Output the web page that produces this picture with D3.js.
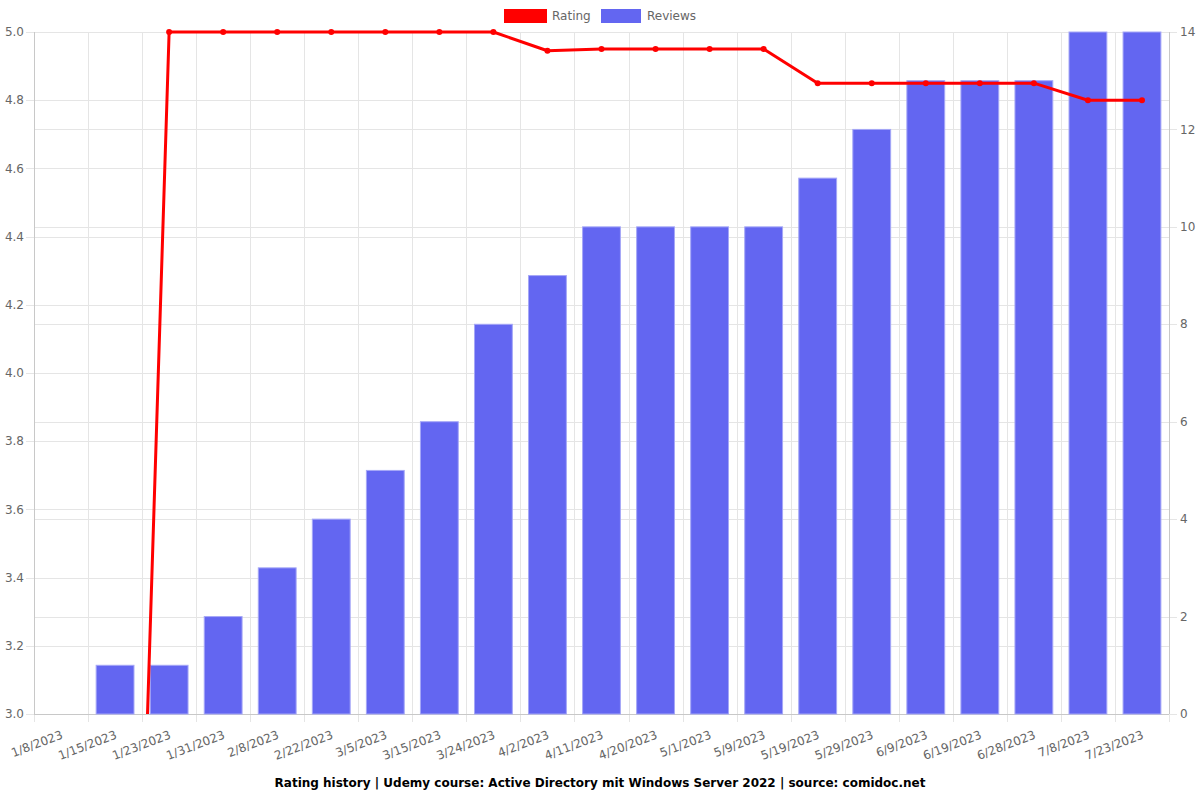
<!DOCTYPE html>
<html><head><meta charset="utf-8">
<script src="https://cdn.jsdelivr.net/npm/d3@7/dist/d3.min.js"></script>
<style>body{margin:0;background:#fff}svg{display:block;font-family:"DejaVu Sans",sans-serif}</style>
</head><body><svg id="c" width="1200" height="800"></svg>
<script>
const categories = ["1/8/2023","1/15/2023","1/23/2023","1/31/2023","2/8/2023","2/22/2023","3/5/2023","3/15/2023","3/24/2023","4/2/2023","4/11/2023","4/20/2023","5/1/2023","5/9/2023","5/19/2023","5/29/2023","6/9/2023","6/19/2023","6/28/2023","7/8/2023","7/23/2023"];
const ratings = [0,0,5,5,5,5,5,5,5,4.945,4.95,4.95,4.95,4.95,4.85,4.85,4.85,4.85,4.85,4.8,4.8];
const reviews = [0,1,1,2,3,4,5,6,8,9,10,10,10,10,11,12,13,13,13,14,14];
const ratingTicks = [3.0,3.2,3.4,3.6,3.8,4.0,4.2,4.4,4.6,4.8,5.0];
const reviewTicks = [0,2,4,6,8,10,12,14];
const title = "Rating history | Udemy course: Active Directory mit Windows Server 2022 | source: comidoc.net";

const svg = d3.select("#c");
const L = 34, R = 1169, T = 32, B = 714;
const x = d3.scaleBand().domain(categories).range([L, R]).paddingInner(0).paddingOuter(0);
const yL = d3.scaleLinear().domain([3, 5]).range([B, T]);
const yR = d3.scaleLinear().domain([0, 14]).range([B, T]);
const grid = "#e5e5e5", axisC = "#c8c8c8", txt = "#666";

// vertical grid at category boundaries
const bounds = categories.map(c => x(c)).concat([R]);
svg.append("g").selectAll("line").data(bounds).join("line")
  .attr("x1", d => Math.round(d) + 0.5).attr("x2", d => Math.round(d) + 0.5)
  .attr("y1", T).attr("y2", B + 8).attr("stroke", grid);
// left grid
svg.append("g").selectAll("line").data(ratingTicks).join("line")
  .attr("x1", L - 8).attr("x2", R).attr("y1", d => Math.round(yL(d)) + 0.5).attr("y2", d => Math.round(yL(d)) + 0.5)
  .attr("stroke", grid);
// right grid
svg.append("g").selectAll("line").data(reviewTicks).join("line")
  .attr("x1", L).attr("x2", R + 8).attr("y1", d => Math.round(yR(d)) + 0.5).attr("y2", d => Math.round(yR(d)) + 0.5)
  .attr("stroke", grid);
// axes lines
svg.append("line").attr("x1", L + 0.5).attr("x2", L + 0.5).attr("y1", T).attr("y2", B).attr("stroke", axisC);
svg.append("line").attr("x1", R + 0.5).attr("x2", R + 0.5).attr("y1", T).attr("y2", B).attr("stroke", axisC);
svg.append("line").attr("x1", L).attr("x2", R).attr("y1", B + 0.5).attr("y2", B + 0.5).attr("stroke", axisC);

// tick labels
svg.append("g").selectAll("text").data(ratingTicks).join("text")
  .attr("x", L - 10).attr("y", d => yL(d)).attr("dy", "0.35em").attr("text-anchor", "end")
  .attr("font-size", 12).attr("fill", txt).text(d => d.toFixed(1));
svg.append("g").selectAll("text").data(reviewTicks).join("text")
  .attr("x", R + 11).attr("y", d => yR(d)).attr("dy", "0.35em").attr("text-anchor", "start")
  .attr("font-size", 12).attr("fill", txt).text(d => d);
svg.append("g").selectAll("text").data(categories).join("text")
  .attr("transform", d => `translate(${x(d) + x.bandwidth() / 2 + 1},${B + 20}) rotate(-21)`)
  .attr("text-anchor", "end").attr("dy", "0.35em")
  .attr("font-size", 12).attr("fill", txt).text(d => d);

// bars
const bw = x.bandwidth() * 0.7;
svg.append("g").selectAll("rect").data(categories).join("rect")
  .attr("x", (d) => x(d) + (x.bandwidth() - bw) / 2)
  .attr("width", bw)
  .attr("y", (d, i) => yR(reviews[i]))
  .attr("height", (d, i) => B - yR(reviews[i]))
  .attr("fill", "#6366f1").attr("stroke", "#a5a7f7").attr("stroke-width", 1);

// line (clipped)
svg.append("clipPath").attr("id", "clip").append("rect").attr("x", L).attr("y", T - 5).attr("width", R - L).attr("height", B - T + 5);
const pts = categories.map((c, i) => [x(c) + x.bandwidth() / 2, yL(ratings[i])]);
const g = svg.append("g").attr("clip-path", "url(#clip)");
g.append("path").attr("d", d3.line()(pts)).attr("fill", "none").attr("stroke", "#ff0000").attr("stroke-width", 3).attr("stroke-linejoin", "round");
g.selectAll("circle").data(pts).join("circle").attr("cx", d => d[0]).attr("cy", d => d[1]).attr("r", 3).attr("fill", "#ff0000");

// legend
svg.append("rect").attr("x", 504).attr("y", 9).attr("width", 43).attr("height", 14).attr("fill", "#ff0000");
svg.append("text").attr("x", 552).attr("y", 16).attr("dy", "0.35em").attr("font-size", 12).attr("fill", txt).text("Rating");
svg.append("rect").attr("x", 601).attr("y", 9).attr("width", 40).attr("height", 14).attr("fill", "#6366f1");
svg.append("text").attr("x", 647).attr("y", 16).attr("dy", "0.35em").attr("font-size", 12).attr("fill", txt).text("Reviews");

// title
svg.append("text").attr("x", 600).attr("y", 783).attr("dy", "0.35em").attr("text-anchor", "middle")
  .attr("font-size", 12).attr("font-weight", "bold").attr("fill", "#000").text(title);
</script></body></html>
